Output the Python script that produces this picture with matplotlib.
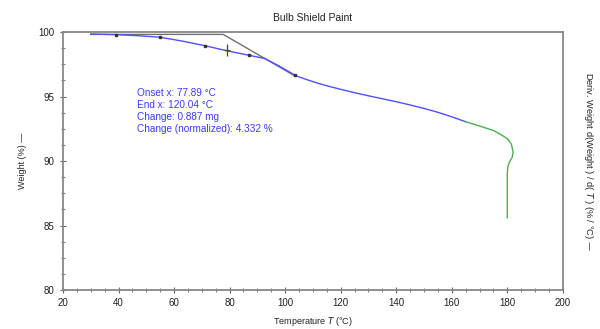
import matplotlib
matplotlib.use("Agg")
import matplotlib.pyplot as plt
from matplotlib.ticker import MultipleLocator

plt.rcParams['font.family'] = ['Liberation Sans', 'DejaVu Sans']

# Blue weight curve (heating ramp)
temp_blue = [30, 39, 47, 55, 63, 71, 79, 87, 92.7, 98, 104, 108, 112, 116, 120, 125, 130,
             135, 140, 145, 150, 155, 160, 165]
weight_blue = [99.85, 99.8, 99.72, 99.6, 99.3, 98.95, 98.55, 98.2, 97.95, 97.35, 96.6, 96.3,
               96.02, 95.78, 95.56, 95.3, 95.06, 94.83, 94.6, 94.35, 94.08, 93.78, 93.43, 93.05]

# Green part (end of ramp + isothermal hold)
temp_green = [165, 170, 175, 177.3, 180, 181.5, 182.1, 181.8, 180.7, 180.2, 180.0, 180.0, 180.0]
weight_green = [93.05, 92.72, 92.37, 92.1, 91.75, 91.3, 90.7, 90.3, 89.9, 89.5, 89.0, 87.5, 85.6]

# Sample markers on the curve
marker_temp = [39, 55, 71, 87, 103.5]
marker_weight = [99.8, 99.6, 98.95, 98.2, 96.65]

# Onset tangent construction
tangent_temp = [30, 77.7, 103.5]
tangent_weight = [99.82, 99.82, 96.6]
onset_mark_temp = 78.9
onset_mark_weight = 98.6

annot_lines = ["Onset x: 77.89 °C", "End x: 120.04 °C", "Change: 0.887 mg",
               "Change (normalized): 4.332 %"]

fig = plt.figure(figsize=(6, 3.29), dpi=100)
ax = fig.add_axes([0.105, 0.1185, 0.833, 0.784])

ax.plot(tangent_temp, tangent_weight, color='#707070', lw=1.0, zorder=2)
ax.plot(temp_blue, weight_blue, color='#5050ff', lw=1.0, zorder=3)
ax.plot(temp_green, weight_green, color='#4caf50', lw=1.0, zorder=3)
ax.plot(marker_temp, marker_weight, ls='none', marker='s', ms=1.5, color='#333333', zorder=4)
ax.plot([onset_mark_temp], [onset_mark_weight], ls='none', marker='|', ms=9, mew=0.9,
        color='#444444', zorder=4)
ax.plot([onset_mark_temp], [onset_mark_weight], ls='none', marker='_', ms=4, mew=0.9,
        color='#444444', zorder=4)

y0 = 95.25
for i, line in enumerate(annot_lines):
    ax.text(46.6, y0 - i * 0.93, line, color='#3a3aff', fontsize=7.2, va='center', ha='left')

ax.set_xlim(20, 200)
ax.set_ylim(80, 100)
ax.xaxis.set_major_locator(MultipleLocator(20))
ax.xaxis.set_minor_locator(MultipleLocator(5))
ax.yaxis.set_major_locator(MultipleLocator(5))
ax.yaxis.set_minor_locator(MultipleLocator(1.25))

for s in ax.spines.values():
    s.set_color('#888888')
    s.set_linewidth(1.3)

ax.tick_params(axis='both', which='both', colors='#666666', labelcolor='#222222',
               labelsize=7, direction='inout')
ax.tick_params(which='major', length=5, width=0.8)
ax.tick_params(which='minor', length=3, width=0.6)

ax.set_title('Bulb Shield Paint', fontsize=7.5, color='#222222', pad=8)
ax.set_xlabel(r'Temperature $\mathit{T}$ (°C)', fontsize=6.5, color='#222222', labelpad=5)
ax.set_ylabel('Weight (%) —', fontsize=6.5, color='#222222', labelpad=8)
fig.text(0.98, 0.51, r'Deriv. Weight d(Weight ) / d( $\mathit{T}$ ) (% / °C) —', rotation=-90,
         fontsize=6.7, color='#222222', ha='center', va='center')

fig.savefig('out.png', dpi=100)
